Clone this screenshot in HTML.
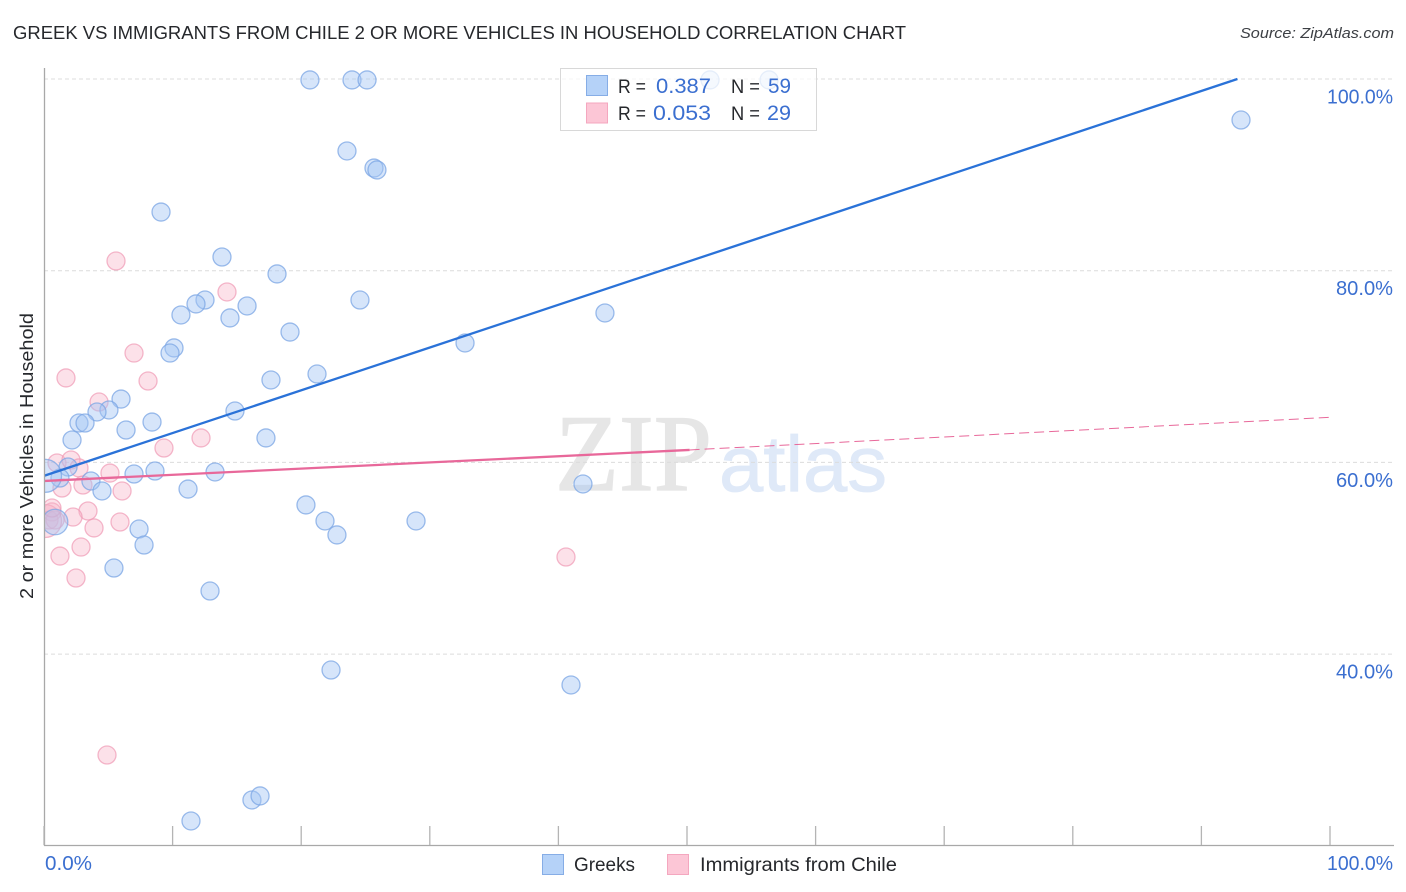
<!DOCTYPE html>
<html lang="en">
<head>
<meta charset="utf-8">
<title>Greek vs Immigrants from Chile correlation chart</title>
<style>
html,body{margin:0;padding:0;background:#fff;}
body{width:1406px;height:892px;overflow:hidden;}
svg{display:block;font-family:"Liberation Sans",sans-serif;}
</style>
</head>
<body>
<svg id="chart" width="1406" height="892" viewBox="0 0 1406 892">
  <defs>
    <clipPath id="plot-clip"><rect x="45" y="60" width="1349" height="785"/></clipPath>
  </defs>
  <text x="13" y="39" font-size="18.5" fill="#26282c" textLength="893" lengthAdjust="spacingAndGlyphs">GREEK VS IMMIGRANTS FROM CHILE 2 OR MORE VEHICLES IN HOUSEHOLD CORRELATION CHART</text>
  <text x="1394" y="38" font-size="15" font-style="italic" fill="#3c3f44" text-anchor="end" textLength="154" lengthAdjust="spacingAndGlyphs">Source: ZipAtlas.com</text>

  <g>
    <text x="555" y="490" font-family="'Liberation Serif',serif" font-size="109" fill="#e6e6e6" stroke="#e6e6e6" stroke-width="1.2" textLength="157" lengthAdjust="spacingAndGlyphs">ZIP</text>
    <text x="719" y="491" font-size="79" fill="#dfe9f8" stroke="#dfe9f8" stroke-width="0.8" textLength="168" lengthAdjust="spacingAndGlyphs">atlas</text>
  </g>

  <g id="grid"></g>
  <g id="series" clip-path="url(#plot-clip)"></g>
  <g id="axes"></g>
  <text transform="translate(33,456) rotate(-90)" font-size="18.5" fill="#26282c" text-anchor="middle" textLength="286" lengthAdjust="spacingAndGlyphs">2 or more Vehicles in Household</text>

  <g>
    <rect x="560.5" y="68.5" width="256" height="62" fill="#fff" fill-opacity="0.75" stroke="#d8d8d8"/>
    <rect x="586.5" y="75.5" width="21" height="20" fill="#b5d2f8" stroke="#86ade6"/>
    <rect x="586.5" y="103" width="21" height="20" fill="#fcc6d6" stroke="#f4a7bf"/>
    <text x="618" y="93" font-size="19" fill="#26282c" textLength="28" lengthAdjust="spacingAndGlyphs">R =</text>
    <text x="656" y="93" font-size="21" fill="#3b6fd0" textLength="55" lengthAdjust="spacingAndGlyphs">0.387</text>
    <text x="731" y="93" font-size="19" fill="#26282c" textLength="29" lengthAdjust="spacingAndGlyphs">N =</text>
    <text x="768" y="93" font-size="21" fill="#3b6fd0" textLength="23" lengthAdjust="spacingAndGlyphs">59</text>
    <text x="618" y="120" font-size="19" fill="#26282c" textLength="28" lengthAdjust="spacingAndGlyphs">R =</text>
    <text x="653" y="120" font-size="21" fill="#3b6fd0" textLength="58" lengthAdjust="spacingAndGlyphs">0.053</text>
    <text x="731" y="120" font-size="19" fill="#26282c" textLength="29" lengthAdjust="spacingAndGlyphs">N =</text>
    <text x="767" y="120" font-size="21" fill="#3b6fd0" textLength="24" lengthAdjust="spacingAndGlyphs">29</text>
  </g>

  <g>
    <g>
      <rect x="542.5" y="854.5" width="21" height="20" fill="#b5d2f8" stroke="#86ade6"/>
      <text x="574" y="871" font-size="19" fill="#26282c" textLength="61" lengthAdjust="spacingAndGlyphs">Greeks</text>
    </g>
    <g>
      <rect x="667.5" y="854.5" width="21" height="20" fill="#fcc6d6" stroke="#f4a7bf"/>
      <text x="700" y="871" font-size="19" fill="#26282c" textLength="197" lengthAdjust="spacingAndGlyphs">Immigrants from Chile</text>
    </g>
  </g>
</svg>
<script>
const greeksX = [20.68,23.95,25.12,51.79,56.38,93.08,23.56,25.66,25.89,9.10,13.84,18.12,12.52,11.82,10.65,24.57,15.79,14.46,43.62,19.13,32.74,10.11,9.80,21.23,17.65,5.99,5.05,4.12,14.85,2.72,3.19,8.40,6.38,2.18,17.26,1.87,8.63,13.30,7.00,1.24,3.65,4.51,11.20,41.91,20.37,21.85,28.93,7.39,22.78,7.78,5.44,12.91,22.32,40.98,16.17,16.80,11.43,0.08,0.86];
const greeksY = [99.9,99.9,99.9,99.9,99.9,95.72,92.49,90.71,90.51,86.12,81.43,79.66,76.94,76.53,75.38,76.94,76.32,75.07,75.59,73.60,72.46,71.94,71.41,69.22,68.60,66.61,65.47,65.26,65.36,64.11,64.11,64.21,63.38,62.34,62.55,59.52,59.10,59.00,58.79,58.37,58.06,57.02,57.22,57.75,55.56,53.89,53.89,53.05,52.43,51.38,48.98,46.58,38.34,36.78,24.78,25.20,22.59,58.6,53.78];
const greeksWeight = [1,1,1,1,1,1,1,1,1,1,1,1,1,1,1,1,1,1,1,1,1,1,1,1,1,1,1,1,1,1,1,1,1,1,1,1,1,1,1,1,1,1,1,1,1,1,1,1,1,1,1,1,1,1,1,1,1,4,2.5];
const chileX = [5.60,14.23,7.00,8.09,1.71,4.28,9.33,12.21,1.01,2.10,2.72,5.13,1.40,3.03,6.07,3.42,2.26,0.62,0.39,0.86,0.08,3.89,5.91,2.88,1.24,2.49,40.59,4.90,0.62];
const chileY = [81.01,77.78,71.41,68.49,68.81,66.30,61.50,62.55,59.94,60.25,59.42,58.89,57.33,57.64,57.02,54.93,54.30,54.83,53.99,53.99,53.89,53.16,53.78,51.17,50.23,47.94,50.13,29.47,55.24];
const chileWeight = [1,1,1,1,1,1,1,1,1,1,1,1,1,1,1,1,1,1,1,1,4,1,1,1,1,1,1,1,1];
const greeksTrendX = [0,92.8];
const greeksTrendY = [58.6,100];
const chileTrendX = [0,50.2];
const chileTrendY = [58.06,61.3];
const chileProjectionX = [50.2,100];
const chileProjectionY = [61.3,64.7];
const yTicks = [100,80,60,40];
const yTickLabels = ['100.0%','80.0%','60.0%','40.0%'];
const xTicks = [0,10,20,30,40,50,60,70,80,90,100];
const xEndTicks = [0,100];
const xEndLabels = ['0.0%','100.0%'];

const NS = 'http://www.w3.org/2000/svg';
const xScale = v => 44 + v * 12.86;
const yScale = v => 79 + (100 - v) * 9.585;
const rScale = w => 9 + (w - 1) * 2.5;
const labelWidth = s => s.length === 6 ? 66 : (s.length === 5 ? 57 : 47);

function make(tag, attrs, parent) {
  const el = document.createElementNS(NS, tag);
  for (const k in attrs) el.setAttribute(k, attrs[k]);
  parent.appendChild(el);
  return el;
}

const grid = document.getElementById('grid');
const axes = document.getElementById('axes');
const series = document.getElementById('series');

yTicks.forEach((t, i) => {
  const line = make('line', {x1: 44, x2: 1394, y1: yScale(t), y2: yScale(t), stroke: '#dcdcdc', 'stroke-width': 1, 'stroke-dasharray': '4 3'}, grid);
  
  
  const label = make('text', {x: 1393, y: yScale(t) + 24.5, 'font-size': 20, fill: '#3b6fd0', 'text-anchor': 'end', textLength: labelWidth(yTickLabels[i]), lengthAdjust: 'spacingAndGlyphs'}, axes);
  label.textContent = yTickLabels[i];
  
  
});

const yAxis = make('line', {x1: 44.5, x2: 44.5, y1: 68, y2: 846, stroke: '#a8a8a8', 'stroke-width': 1.3}, axes);


const xAxis = make('line', {x1: 44, x2: 1394, y1: 845.5, y2: 845.5, stroke: '#a8a8a8', 'stroke-width': 1.3}, axes);



xTicks.forEach(t => {
  const tick = make('line', {x1: xScale(t), x2: xScale(t), y1: 826, y2: 845, stroke: '#b4b4b4', 'stroke-width': 1.3}, axes);
  
  
});

xEndTicks.forEach((t, i) => {
  const label = make('text', {x: i === 0 ? xScale(t) + 1 : xScale(t) + 63, y: 870, 'font-size': 20, fill: '#3b6fd0', 'text-anchor': i === 0 ? 'start' : 'end', textLength: labelWidth(xEndLabels[i]), lengthAdjust: 'spacingAndGlyphs'}, axes);
  label.textContent = xEndLabels[i];
  
  
});

chileX.forEach((v, i) => {
  const c = make('circle', {cx: xScale(v), cy: yScale(chileY[i]), r: rScale(chileWeight[i]), fill: '#f8b4c8', 'fill-opacity': 0.4, stroke: '#f09ab5', 'stroke-opacity': 0.7, 'stroke-width': 1.3}, series);
  
  
});

greeksX.forEach((v, i) => {
  const c = make('circle', {cx: xScale(v), cy: yScale(greeksY[i]), r: rScale(greeksWeight[i]), fill: '#a3c5f3', 'fill-opacity': 0.45, stroke: '#7ba6e4', 'stroke-opacity': 0.75, 'stroke-width': 1.3}, series);
  
  
});

const greeksTrend = make('line', {x1: xScale(greeksTrendX[0]), y1: yScale(greeksTrendY[0]), x2: xScale(greeksTrendX[1]), y2: yScale(greeksTrendY[1]), stroke: '#2a72d8', 'stroke-width': 2.3}, series);



const chileTrend = make('line', {x1: xScale(chileTrendX[0]), y1: yScale(chileTrendY[0]), x2: xScale(chileTrendX[1]), y2: yScale(chileTrendY[1]), stroke: '#e8689a', 'stroke-width': 2.3}, series);



const chileProjection = make('line', {x1: xScale(chileProjectionX[0]), y1: yScale(chileProjectionY[0]), x2: xScale(chileProjectionX[1]), y2: yScale(chileProjectionY[1]), stroke: '#e8689a', 'stroke-width': 1, 'stroke-dasharray': '10 5'}, series);


</script>
</body>
</html>
